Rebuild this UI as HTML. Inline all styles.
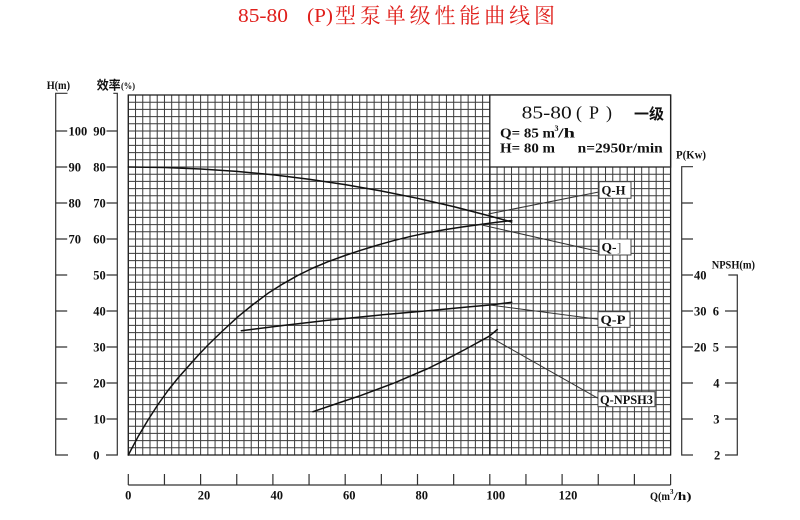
<!DOCTYPE html>
<html><head><meta charset="utf-8"><style>
html,body{margin:0;padding:0;background:#fff;}
svg{display:block;}
.t{font-family:"Liberation Serif","Noto Serif CJK SC",serif;font-weight:bold;fill:#111;}
.c{font-family:"Liberation Serif","Noto Sans CJK SC",sans-serif;font-weight:bold;fill:#111;}
</style></head><body>
<svg width="800" height="520" viewBox="0 0 800 520" xmlns="http://www.w3.org/2000/svg">
<rect width="800" height="520" fill="#fff"/>
<!-- title -->
<text x="238" y="22" font-family="Liberation Serif, serif" font-size="20" fill="#e0201c" textLength="50" lengthAdjust="spacingAndGlyphs">85-80</text>
<text x="307" y="22" font-family="Liberation Serif, serif" font-size="20" fill="#e0201c" textLength="26" lengthAdjust="spacingAndGlyphs">(P)</text>
<text x="335" y="23" font-family="Liberation Serif, 'Noto Serif CJK SC', serif" font-size="21" fill="#e0201c" textLength="220" lengthAdjust="spacing">型泵单级性能曲线图</text>

<!-- grid -->
<g fill="none" stroke="#3a3a3a" stroke-width="1">
<path d="M128.3 95v360m7.2307-360v360m7.2307-360v360m7.2307-360v360m7.2307-360v360m7.2307-360v360
m7.2307-360v360m7.2307-360v360m7.2307-360v360m7.2307-360v360m7.2307-360v360
m7.2307-360v360m7.2307-360v360m7.2307-360v360m7.2307-360v360m7.2307-360v360
m7.2307-360v360m7.2307-360v360m7.2307-360v360m7.2307-360v360m7.2307-360v360
m7.2307-360v360m7.2307-360v360m7.2307-360v360m7.2307-360v360m7.2307-360v360
m7.2307-360v360m7.2307-360v360m7.2307-360v360m7.2307-360v360m7.2307-360v360
m7.2307-360v360m7.2307-360v360m7.2307-360v360m7.2307-360v360m7.2307-360v360
m7.2307-360v360m7.2307-360v360m7.2307-360v360m7.2307-360v360m7.2307-360v360
m7.2307-360v360m7.2307-360v360m7.2307-360v360m7.2307-360v360m7.2307-360v360
m7.2307-360v360m7.2307-360v360m7.2307-360v360m7.2307-360v360m7.2307-360v360
m7.2307-360v360m7.2307-360v360m7.2307-360v360m7.2307-360v360m7.2307-360v360
m7.2307-360v360m7.2307-360v360m7.2307-360v360m7.2307-360v360m7.2307-360v360
m7.2307-360v360m7.2307-360v360m7.2307-360v360m7.2307-360v360m7.2307-360v360
m7.2307-360v360m7.2307-360v360m7.2307-360v360m7.2307-360v360m7.2307-360v360
m7.2307-360v360m7.2307-360v360m7.2307-360v360m7.2307-360v360m7.2307-360v360"/>
<path d="M128.3 95h542.3m-542.3 7.2h542.3m-542.3 7.2h542.3m-542.3 7.2h542.3m-542.3 7.2h542.3m-542.3 7.2h542.3
m-542.3 7.2h542.3m-542.3 7.2h542.3m-542.3 7.2h542.3m-542.3 7.2h542.3m-542.3 7.2h542.3
m-542.3 7.2h542.3m-542.3 7.2h542.3m-542.3 7.2h542.3m-542.3 7.2h542.3m-542.3 7.2h542.3
m-542.3 7.2h542.3m-542.3 7.2h542.3m-542.3 7.2h542.3m-542.3 7.2h542.3m-542.3 7.2h542.3
m-542.3 7.2h542.3m-542.3 7.2h542.3m-542.3 7.2h542.3m-542.3 7.2h542.3m-542.3 7.2h542.3
m-542.3 7.2h542.3m-542.3 7.2h542.3m-542.3 7.2h542.3m-542.3 7.2h542.3m-542.3 7.2h542.3
m-542.3 7.2h542.3m-542.3 7.2h542.3m-542.3 7.2h542.3m-542.3 7.2h542.3m-542.3 7.2h542.3
m-542.3 7.2h542.3m-542.3 7.2h542.3m-542.3 7.2h542.3m-542.3 7.2h542.3m-542.3 7.2h542.3
m-542.3 7.2h542.3m-542.3 7.2h542.3m-542.3 7.2h542.3m-542.3 7.2h542.3m-542.3 7.2h542.3
m-542.3 7.2h542.3m-542.3 7.2h542.3m-542.3 7.2h542.3m-542.3 7.2h542.3m-542.3 7.2h542.3"/>
</g>
<line x1="489.84" y1="167" x2="489.84" y2="455" stroke="#222" stroke-width="1.5"/>
<rect x="128.3" y="95" width="542.3" height="360" fill="none" stroke="#222" stroke-width="1.3"/>

<!-- legend box -->
<rect x="489.8" y="95" width="180.8" height="72" fill="#fff" stroke="#222" stroke-width="1.3"/>
<text x="521.7" y="118.3" font-family="Liberation Serif, serif" font-size="18" fill="#111" textLength="50" lengthAdjust="spacingAndGlyphs">85-80</text>
<text x="576" y="118.5" font-family="Liberation Serif, serif" font-size="18" fill="#111">(</text>
<text x="589" y="118.3" font-family="Liberation Serif, serif" font-size="18" fill="#111">P</text>
<text x="606" y="118.5" font-family="Liberation Serif, serif" font-size="18" fill="#111">)</text>
<text x="634" y="119" class="c" font-size="15" textLength="30" lengthAdjust="spacingAndGlyphs">一级</text>
<text x="500" y="137.3" class="t" font-size="13.5" textLength="55" lengthAdjust="spacingAndGlyphs">Q= 85 m</text>
<text x="554.5" y="131" class="t" font-size="8">3</text>
<text x="558" y="137.3" class="t" font-size="13.5" textLength="17" lengthAdjust="spacingAndGlyphs">/h</text>
<text x="500" y="152.7" class="t" font-size="13.5" textLength="55" lengthAdjust="spacingAndGlyphs">H= 80 m</text>
<text x="577.7" y="152.7" class="t" font-size="13.5" textLength="85" lengthAdjust="spacingAndGlyphs">n=2950r/min</text>

<!-- curves -->
<g fill="none" stroke="#111" stroke-width="1.5" stroke-linejoin="round" stroke-linecap="round">
<polyline points="128.3,167 164.45,167.5 200.6,169 236.75,171.4 272.9,174.8 309.05,179.2 345.2,184.6 381.35,191 417.5,198.3 453.65,206.6 489.8,216 511.7,222"/>
<polyline points="128.3,455 138,436.8 148,420 158,404.5 168,390.5 178,378 188,366.7 198,355.5 208,345 223,330.5 238,316.7 253,304.5 268,293.3 283,283.8 298,275.3 313,268 328,261.7 345,255.5 361,250.2 378,245 394.7,240.3 411,236.3 428,232.7 445,229.6 462,227 482,224.2 497,222.3 511.7,220.5"/>
<polyline points="241.3,330.7 285,325.2 328,320.2 378,315.2 428,310.7 470,306.8 490,305 511.7,302.3"/>
<polyline points="313,411.7 337,403.5 361.3,395.3 394.7,382.8 428,368.5 440,362.6 465,349.5 489.3,336.2 497.3,329.5"/>
</g>
<!-- leaders -->
<g stroke="#333" stroke-width="1" fill="none">
<line x1="488.3" y1="214" x2="600" y2="191.7"/>
<line x1="481.7" y1="225" x2="600" y2="251.7"/>
<line x1="490" y1="305" x2="598" y2="319.3"/>
<line x1="489.3" y1="336.7" x2="598" y2="398.3"/>
</g>
<!-- curve labels -->
<g fill="#fff" stroke="#444" stroke-width="1">
<rect x="599" y="181.7" width="32" height="16.6"/>
<rect x="599" y="239" width="32" height="16"/>
<rect x="598" y="311.7" width="32" height="15.6"/>
<rect x="598" y="391.7" width="57" height="15"/>
</g>
<text x="601.5" y="194.5" class="t" font-size="13" textLength="24" lengthAdjust="spacingAndGlyphs">Q-H</text>
<text x="601.5" y="251.5" class="t" font-size="13" textLength="15" lengthAdjust="spacingAndGlyphs">Q-</text>
<text x="617" y="251.5" font-family="Liberation Serif, serif" font-size="13" fill="#555">]</text>
<text x="600.5" y="324" class="t" font-size="13" textLength="25" lengthAdjust="spacingAndGlyphs">Q-P</text>
<text x="600" y="404" class="t" font-size="13" textLength="53" lengthAdjust="spacingAndGlyphs">Q-NPSH3</text>

<!-- left axes -->
<g stroke="#333" stroke-width="1.2" fill="none">
<path d="M67.5 93.3H55.7V455H68"/>
<path d="M55.7 131h11.5M55.7 167h11.5M55.7 203h11.5M55.7 239h11.5M55.7 275h11.5M55.7 311h11.5M55.7 347h11.5M55.7 383h11.5M55.7 419h11.5"/>
<path d="M113.3 93.3H117.3V455H106"/>
<path d="M106.5 131h10.8M106.5 167h10.8M106.5 203h10.8M106.5 239h10.8M106.5 275h10.8M106.5 311h10.8M106.5 347h10.8M106.5 383h10.8M106.5 419h10.8"/>
</g>
<text x="46.7" y="89" class="t" font-size="12" textLength="23.3" lengthAdjust="spacingAndGlyphs">H(m)</text>
<text x="96.7" y="89.5" class="c" font-size="12.5" textLength="24" lengthAdjust="spacingAndGlyphs">效率</text>
<text x="121" y="89" class="t" font-size="9" textLength="14" lengthAdjust="spacingAndGlyphs">(%)</text>
<g class="t" font-size="12.5">
<text x="68.5" y="135.3">100</text>
<text x="68.5" y="171.3">90</text>
<text x="68.5" y="207.3">80</text>
<text x="68.5" y="243.3">70</text>
<text x="93.3" y="135.3">90</text>
<text x="93.3" y="171.3">80</text>
<text x="93.3" y="207.3">70</text>
<text x="93.3" y="243.3">60</text>
<text x="93.3" y="279.3">50</text>
<text x="93.3" y="315.3">40</text>
<text x="93.3" y="351.3">30</text>
<text x="93.3" y="387.3">20</text>
<text x="93.3" y="423.3">10</text>
<text x="93.3" y="459.3">0</text>
</g>

<!-- right axes -->
<g stroke="#333" stroke-width="1.2" fill="none">
<path d="M693 166.7H681.7V455H693"/>
<path d="M681.7 203h11.3M681.7 239h11.3M681.7 275h11.3M681.7 311h11.3M681.7 347h11.3M681.7 383h11.3M681.7 419h11.3"/>
<path d="M728.3 275H737.3V455H725"/>
<path d="M725 311h12.3M725 347h12.3M725 383h12.3M725 419h12.3"/>
</g>
<text x="676" y="158.5" class="t" font-size="12" textLength="30" lengthAdjust="spacingAndGlyphs">P(Kw)</text>
<text x="711.7" y="268.3" class="t" font-size="12" textLength="43.3" lengthAdjust="spacingAndGlyphs">NPSH(m)</text>
<g class="t" font-size="12.5">
<text x="694" y="279.3">40</text>
<text x="694" y="315.3">30</text>
<text x="694" y="351.3">20</text>
<text x="712.7" y="315.3">6</text>
<text x="712.7" y="351.3">5</text>
<text x="713.3" y="387.3">4</text>
<text x="713.3" y="423.3">3</text>
<text x="714" y="459.3">2</text>
</g>

<!-- bottom axis -->
<g stroke="#333" stroke-width="1.2" fill="none">
<path d="M128.3 485H670.6"/>
<path d="M128.3 474v11M164.45 474v11M200.6 474v11M236.75 474v11M272.9 474v11M309.05 474v11M345.2 474v11M381.35 474v11M417.5 474v11M453.65 474v11M489.8 474v11M525.95 474v11M562.1 474v11M598.25 474v11M634.4 474v11M670.6 474v11"/>
</g>
<g class="t" font-size="12.5" text-anchor="middle">
<text x="128.3" y="499.5">0</text>
<text x="204" y="499.5">20</text>
<text x="276.7" y="499.5">40</text>
<text x="349.3" y="499.5">60</text>
<text x="421.7" y="499.5">80</text>
<text x="495.7" y="499.5">100</text>
<text x="568" y="499.5">120</text>
</g>
<text x="650" y="500" class="t" font-size="11.5" textLength="20" lengthAdjust="spacingAndGlyphs">Q(m</text>
<text x="670" y="494" class="t" font-size="7">3</text>
<text x="673.5" y="500" class="t" font-size="11.5" textLength="18" lengthAdjust="spacingAndGlyphs">/h)</text>
</svg>
</body></html>
